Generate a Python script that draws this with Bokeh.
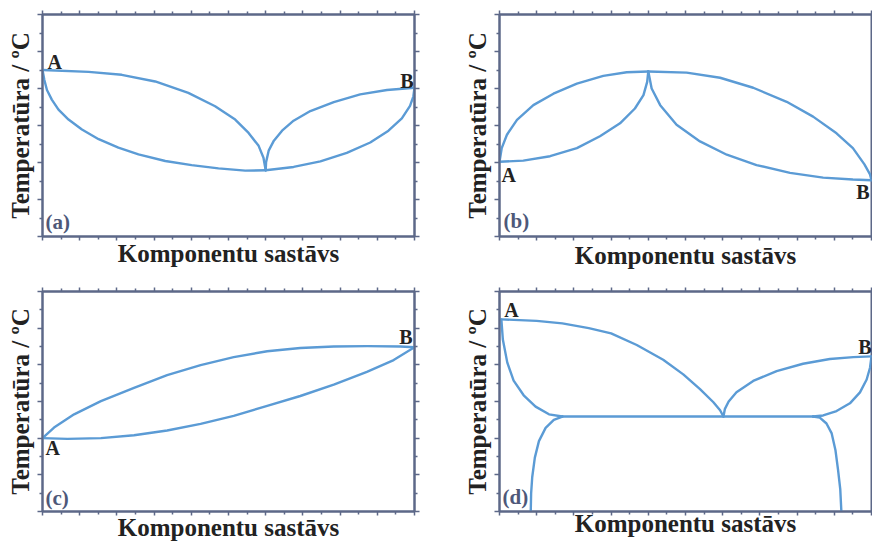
from bokeh.embed import file_html
from bokeh.layouts import column, row
from bokeh.models import CustomJSTickFormatter, FixedTicker, Label, LinearAxis, Range1d
from bokeh.plotting import figure
from bokeh.resources import INLINE

# ---------------------------------------------------------------------------
# Axis texts and ticks (composition in % of B, temperature in arbitrary units)
# ---------------------------------------------------------------------------
X_TITLE = "Komponentu sastāvs"
Y_TITLE = "Temperatūra / ºC"
X_TICKS = [0, 10, 20, 30, 40, 50, 60, 70, 80, 90, 100]
X_MINOR = [5, 15, 25, 35, 45, 55, 65, 75, 85, 95]
Y_TICKS = [0, 1, 2, 3, 4, 5, 6]
Y_MINOR = [0.5, 1.5, 2.5, 3.5, 4.5, 5.5]

# ---------------------------------------------------------------------------
# (a) eutectic-type diagram with partial solid solubility
# ---------------------------------------------------------------------------
A_LIQ_LEFT_X = [0, 12.4, 21.3, 30.3, 39.2, 46.4, 51.8, 55.4, 58.1, 59.4, 60.0]
A_LIQ_LEFT_Y = [4.50, 4.45, 4.37, 4.19, 3.88, 3.52, 3.16, 2.80, 2.45, 2.13, 1.79]
A_SOL_LEFT_X = [0, 0.5, 1.2, 2.5, 4.3, 7.0, 10.6, 15.1, 20.4, 25.8, 33.0, 40.1, 47.3, 54.5, 60.0]
A_SOL_LEFT_Y = [4.50, 4.23, 3.96, 3.70, 3.43, 3.16, 2.89, 2.63, 2.40, 2.22, 2.04, 1.93, 1.84, 1.78, 1.79]
A_LIQ_RIGHT_X = [60.0, 60.1, 60.8, 62.2, 64.4, 67.5, 72.0, 78.3, 85.4, 92.6, 100]
A_LIQ_RIGHT_Y = [1.79, 2.01, 2.32, 2.59, 2.86, 3.13, 3.39, 3.63, 3.84, 3.96, 4.02]
A_SOL_RIGHT_X = [60.0, 67.5, 74.7, 81.8, 88.1, 93.0, 96.6, 98.8, 99.7, 100]
A_SOL_RIGHT_Y = [1.79, 1.88, 2.03, 2.26, 2.54, 2.86, 3.19, 3.53, 3.79, 4.02]

# ---------------------------------------------------------------------------
# (b) diagram with a congruent maximum
# ---------------------------------------------------------------------------
B_LIQ_LEFT_X = [0, 0.6, 2.0, 4.7, 9.1, 14.5, 20.8, 27.9, 34.2, 40.0]
B_LIQ_LEFT_Y = [2.02, 2.39, 2.75, 3.15, 3.55, 3.86, 4.13, 4.34, 4.44, 4.46]
B_SOL_LEFT_X = [0, 6.4, 13.6, 20.8, 27.0, 32.4, 36.4, 38.7, 39.7, 40.0]
B_SOL_LEFT_Y = [2.02, 2.05, 2.17, 2.39, 2.71, 3.06, 3.46, 3.82, 4.18, 4.46]
B_LIQ_RIGHT_X = [40.0, 50.3, 59.3, 68.2, 77.2, 84.3, 90.6, 95.0, 98.1, 99.6, 100]
B_LIQ_RIGHT_Y = [4.46, 4.43, 4.29, 4.02, 3.64, 3.24, 2.79, 2.39, 1.95, 1.68, 1.52]
B_SOL_RIGHT_X = [40.0, 40.9, 43.2, 47.6, 53.9, 61.1, 69.1, 78.1, 87.0, 95.0, 100]
B_SOL_RIGHT_Y = [4.46, 4.00, 3.55, 3.02, 2.57, 2.21, 1.93, 1.72, 1.59, 1.54, 1.52]

# ---------------------------------------------------------------------------
# (c) complete solid solubility (lens-shaped diagram)
# ---------------------------------------------------------------------------
C_LIQ_X = [0, 3.1, 8.5, 15.7, 24.6, 33.5, 42.5, 51.4, 60.4, 69.3, 78.3, 87.3, 96.2, 100]
C_LIQ_Y = [2.00, 2.29, 2.65, 3.01, 3.37, 3.72, 3.99, 4.21, 4.37, 4.46, 4.50, 4.51, 4.50, 4.48]
C_SOL_X = [0, 6.7, 15.7, 24.6, 33.5, 42.5, 51.4, 60.4, 69.3, 78.3, 87.2, 94.4, 100]
C_SOL_Y = [2.00, 1.98, 2.00, 2.08, 2.21, 2.39, 2.61, 2.88, 3.15, 3.46, 3.81, 4.13, 4.48]

# ---------------------------------------------------------------------------
# (d) eutectic with limited solid solubility and solvus lines
# ---------------------------------------------------------------------------
D_LIQ_LEFT_X = [0.5, 10.0, 16.9, 24.0, 30.0, 36.9, 44.0, 49.4, 53.9, 57.5, 59.3, 60.2]
D_LIQ_LEFT_Y = [5.24, 5.20, 5.13, 5.00, 4.86, 4.54, 4.14, 3.74, 3.34, 2.98, 2.76, 2.59]
D_SOL_LEFT_X = [0.5, 0.9, 2.1, 3.8, 6.5, 9.7, 13.3, 16.9]
D_SOL_LEFT_Y = [5.24, 4.69, 4.06, 3.57, 3.17, 2.86, 2.65, 2.59]
D_SOLVUS_LEFT_X = [16.9, 14.6, 12.4, 10.6, 9.5, 8.8, 8.5, 8.4]
D_SOLVUS_LEFT_Y = [2.59, 2.50, 2.28, 1.92, 1.47, 0.94, 0.49, 0.00]
D_LIQ_RIGHT_X = [60.2, 60.6, 61.6, 63.7, 68.2, 74.5, 81.6, 88.8, 95.1, 100]
D_LIQ_RIGHT_Y = [2.59, 2.80, 3.00, 3.25, 3.56, 3.83, 4.03, 4.16, 4.21, 4.23]
D_SOL_RIGHT_X = [84.3, 87.0, 90.6, 94.2, 96.9, 98.7, 99.6, 100]
D_SOL_RIGHT_Y = [2.59, 2.62, 2.74, 2.95, 3.25, 3.60, 3.92, 4.23]
D_SOLVUS_RIGHT_X = [84.3, 86.1, 87.9, 89.3, 90.3, 91.0, 91.6, 91.9]
D_SOLVUS_RIGHT_Y = [2.59, 2.56, 2.40, 2.13, 1.68, 1.14, 0.61, 0.00]
D_EUTECTIC_X = [16.9, 84.3]
D_EUTECTIC_Y = [2.59, 2.59]

# ---------------------------------------------------------------------------
# Styling
# ---------------------------------------------------------------------------
SERIF = "Liberation Serif"
AXIS_COLOR = "#5d6888"
CURVE_COLOR = "#5b9bd5"
TAG_COLOR = "#4e5879"
INK = "#222222"
PANEL_W, PANEL_H = 436, 272


def style_axis(ax, horizontal):
    if horizontal:
        ax.ticker = FixedTicker(ticks=X_TICKS, minor_ticks=X_MINOR)
        ax.major_tick_out, ax.minor_tick_out = 4, 3
    else:
        ax.ticker = FixedTicker(ticks=Y_TICKS, minor_ticks=Y_MINOR)
        ax.major_tick_out, ax.minor_tick_out = 5, 3
    ax.major_tick_in = 0
    ax.minor_tick_in = 0
    ax.axis_line_color = AXIS_COLOR
    ax.axis_line_width = 2
    ax.major_tick_line_color = AXIS_COLOR
    ax.minor_tick_line_color = AXIS_COLOR
    ax.major_tick_line_width = 1.5
    ax.minor_tick_line_width = 1.5
    ax.formatter = CustomJSTickFormatter(code="return ''")
    ax.major_label_text_font_size = "0px"
    ax.major_label_standoff = 0


def style_title(ax, text, standoff):
    ax.axis_label = text
    ax.axis_label_standoff = standoff
    ax.axis_label_text_font = SERIF
    ax.axis_label_text_font_style = "bold"
    ax.axis_label_text_font_size = "25px"
    ax.axis_label_text_color = INK


def make_panel(tag, curves, ends, borders, right_axis, tag_off, x_standoff, y_standoff):
    left, right, top, bottom = borders
    p = figure(
        width=PANEL_W, height=PANEL_H,
        x_range=Range1d(0, 100), y_range=Range1d(0, 6),
        output_backend="svg", toolbar_location=None,
        min_border_left=left, min_border_right=right,
        min_border_top=top, min_border_bottom=bottom,
        background_fill_color="white", border_fill_color="white",
    )
    p.grid.visible = False
    p.outline_line_color = AXIS_COLOR
    p.outline_line_width = 2

    style_axis(p.xaxis[0], True)
    style_axis(p.yaxis[0], False)
    style_title(p.xaxis[0], X_TITLE, x_standoff)
    style_title(p.yaxis[0], Y_TITLE, y_standoff)

    top_axis = LinearAxis()
    style_axis(top_axis, True)
    p.add_layout(top_axis, "above")
    if right_axis:
        right_ax = LinearAxis()
        style_axis(right_ax, False)
        p.add_layout(right_ax, "right")

    for xs, ys in curves:
        p.line(xs, ys, line_color=CURVE_COLOR, line_width=2.4,
               line_join="round", line_cap="round")

    # component letters at the melting points of the pure components
    for letter, (x, y), (dx, dy), align in ends:
        p.add_layout(Label(x=x, y=y, x_offset=dx, y_offset=dy, text=letter,
                           text_align=align, text_baseline="middle",
                           text_font=SERIF, text_font_style="bold",
                           text_font_size="20px", text_color=INK))

    # panel tag
    p.add_layout(Label(x=0, y=0, x_offset=tag_off[0], y_offset=tag_off[1], text=tag,
                       text_align="left", text_baseline="middle",
                       text_font=SERIF, text_font_style="bold",
                       text_font_size="21px", text_color=TAG_COLOR))
    return p


pa = make_panel(
    "(a)",
    [(A_LIQ_LEFT_X, A_LIQ_LEFT_Y), (A_SOL_LEFT_X, A_SOL_LEFT_Y),
     (A_LIQ_RIGHT_X, A_LIQ_RIGHT_Y), (A_SOL_RIGHT_X, A_SOL_RIGHT_Y)],
    [("A", (A_LIQ_LEFT_X[0], A_LIQ_LEFT_Y[0]), (5, 8), "left"),
     ("B", (A_LIQ_RIGHT_X[-1], A_LIQ_RIGHT_Y[-1]), (-1, 7), "right")],
    (42, 22, 14, 34), True, (3, 15), -1, 4,
)

pb = make_panel(
    "(b)",
    [(B_LIQ_LEFT_X, B_LIQ_LEFT_Y), (B_SOL_LEFT_X, B_SOL_LEFT_Y),
     (B_LIQ_RIGHT_X, B_LIQ_RIGHT_Y), (B_SOL_RIGHT_X, B_SOL_RIGHT_Y)],
    [("A", (B_LIQ_LEFT_X[0], B_LIQ_LEFT_Y[0]), (2, -13), "left"),
     ("B", (B_LIQ_RIGHT_X[-1], B_LIQ_RIGHT_Y[-1]), (-2, -12), "right")],
    (63, 1, 12, 36), False, (4, 16), 1, 4,
)

pc = make_panel(
    "(c)",
    [(C_LIQ_X, C_LIQ_Y), (C_SOL_X, C_SOL_Y)],
    [("A", (C_SOL_X[0], C_SOL_Y[0]), (3, -10), "left"),
     ("B", (C_LIQ_X[-1], C_LIQ_Y[-1]), (-2, 10), "right")],
    (42, 22, 15, 33), True, (3, 14), -2, 4,
)

pd = make_panel(
    "(d)",
    [(D_LIQ_LEFT_X, D_LIQ_LEFT_Y), (D_SOL_LEFT_X, D_SOL_LEFT_Y),
     (D_SOLVUS_LEFT_X, D_SOLVUS_LEFT_Y), (D_LIQ_RIGHT_X, D_LIQ_RIGHT_Y),
     (D_SOL_RIGHT_X, D_SOL_RIGHT_Y), (D_SOLVUS_RIGHT_X, D_SOLVUS_RIGHT_Y),
     (D_EUTECTIC_X, D_EUTECTIC_Y)],
    [("A", (D_LIQ_LEFT_X[0], D_LIQ_LEFT_Y[0]), (3, 9), "left"),
     ("B", (D_LIQ_RIGHT_X[-1], D_LIQ_RIGHT_Y[-1]), (0, 9), "right")],
    (63, 1, 19, 29), False, (3, 15), -6, 4,
)

layout = column(row(pa, pb), row(pc, pd))

with open("out.html", "w") as f:
    f.write(file_html(layout, INLINE))
